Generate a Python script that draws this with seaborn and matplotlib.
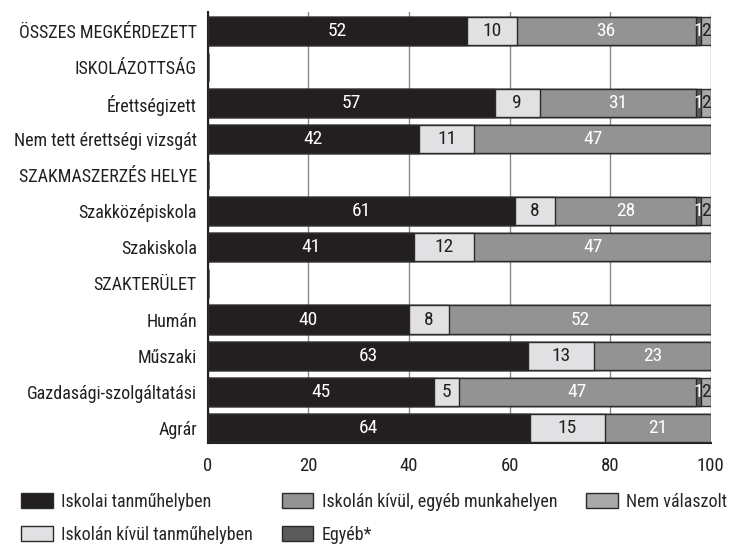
import matplotlib

matplotlib.use("Agg")
import matplotlib.pyplot as plt
import numpy as np
import pandas as pd
import seaborn as sns
from matplotlib.patches import Patch

categories = [
    "ÖSSZES MEGKÉRDEZETT",
    "ISKOLÁZOTTSÁG",
    "Érettségizett",
    "Nem tett érettségi vizsgát",
    "SZAKMASZERZÉS HELYE",
    "Szakközépiskola",
    "Szakiskola",
    "SZAKTERÜLET",
    "Humán",
    "Műszaki",
    "Gazdasági-szolgáltatási",
    "Agrár",
]
series_names = [
    "Iskolai tanműhelyben",
    "Iskolán kívül tanműhelyben",
    "Iskolán kívül, egyéb munkahelyen",
    "Egyéb*",
    "Nem válaszolt",
]
iskolai = [52, 0, 57, 42, 0, 61, 41, 0, 40, 63, 45, 64]
kivul_tanmuhely = [10, 0, 9, 11, 0, 8, 12, 0, 8, 13, 5, 15]
egyeb_munkahely = [36, 0, 31, 47, 0, 28, 47, 0, 52, 23, 47, 21]
egyeb = [1, 0, 1, 0, 0, 1, 0, 0, 0, 0, 1, 0]
nem_valaszolt = [2, 0, 2, 0, 0, 2, 0, 0, 0, 0, 2, 0]

colors = ["#231f20", "#e1e1e3", "#939394", "#5b5b5c", "#a9a9aa"]
text_colors = ["white", "#231f20", "white", "white", "#231f20"]

FONT = ["Roboto Condensed", "Archivo Narrow", "DejaVu Sans"]

sns.set_theme(style="white")
plt.rcParams["font.family"] = FONT
plt.rcParams["font.size"] = 13

vals = np.array([iskolai, kivul_tanmuhely, egyeb_munkahely, egyeb, nem_valaszolt], dtype=float)
tot = vals.sum(axis=0)
tot[tot == 0] = 1
shares = vals / tot * 100  # printed values are rounded; scale each bar to 100
cum = shares.cumsum(axis=0)

fig = plt.figure(figsize=(7.32, 5.46), dpi=100)
ax = fig.add_axes([0.284, 0.189, 0.687, 0.789])

# stacked bars: draw cumulative totals from the outermost layer inward
for i in range(len(series_names) - 1, -1, -1):
    df = pd.DataFrame({"cat": categories, "x": cum[i]})
    sns.barplot(data=df, x="x", y="cat", order=categories, color=colors[i],
                saturation=1, width=0.78, edgecolor="#2a2a2a", linewidth=1,
                ax=ax, zorder=3)

for i in range(len(series_names)):
    for j in range(len(categories)):
        v = vals[i, j]
        if v <= 0:
            continue
        xc = cum[i, j] - shares[i, j] / 2
        ax.text(xc, j, f"{int(v)}", ha="center", va="center", fontsize=14,
                color=text_colors[i], zorder=5, clip_on=False)

ax.set_xlim(0, 100)
ax.set_ylim(11.42, -0.53)
ax.set_xticks([0, 20, 40, 60, 80, 100])
ax.set_xlabel("")
ax.set_ylabel("")
ax.grid(axis="x", color="#8a8a8a", linewidth=1)
ax.grid(axis="y", visible=False)
ax.set_axisbelow(True)
for side in ["top", "right"]:
    ax.spines[side].set_visible(False)
for side in ["left", "bottom"]:
    ax.spines[side].set_color("#231f20")
    ax.spines[side].set_linewidth(1.5)
ax.tick_params(axis="x", length=0, pad=10, labelsize=13.5, colors="#231f20")
ax.tick_params(axis="y", length=0, pad=8, labelsize=13, colors="#231f20")

handles = [Patch(facecolor=c, edgecolor="#2a2a2a", linewidth=1) for c in colors]
fig.legend(handles, series_names, loc="lower left", bbox_to_anchor=(0.017, -0.012),
           ncol=3, frameon=False, fontsize=13, handlelength=1.75, handleheight=0.9,
           handletextpad=0.45, columnspacing=1.6, labelspacing=0.8, borderpad=0)

fig.savefig("out.png", dpi=100)
